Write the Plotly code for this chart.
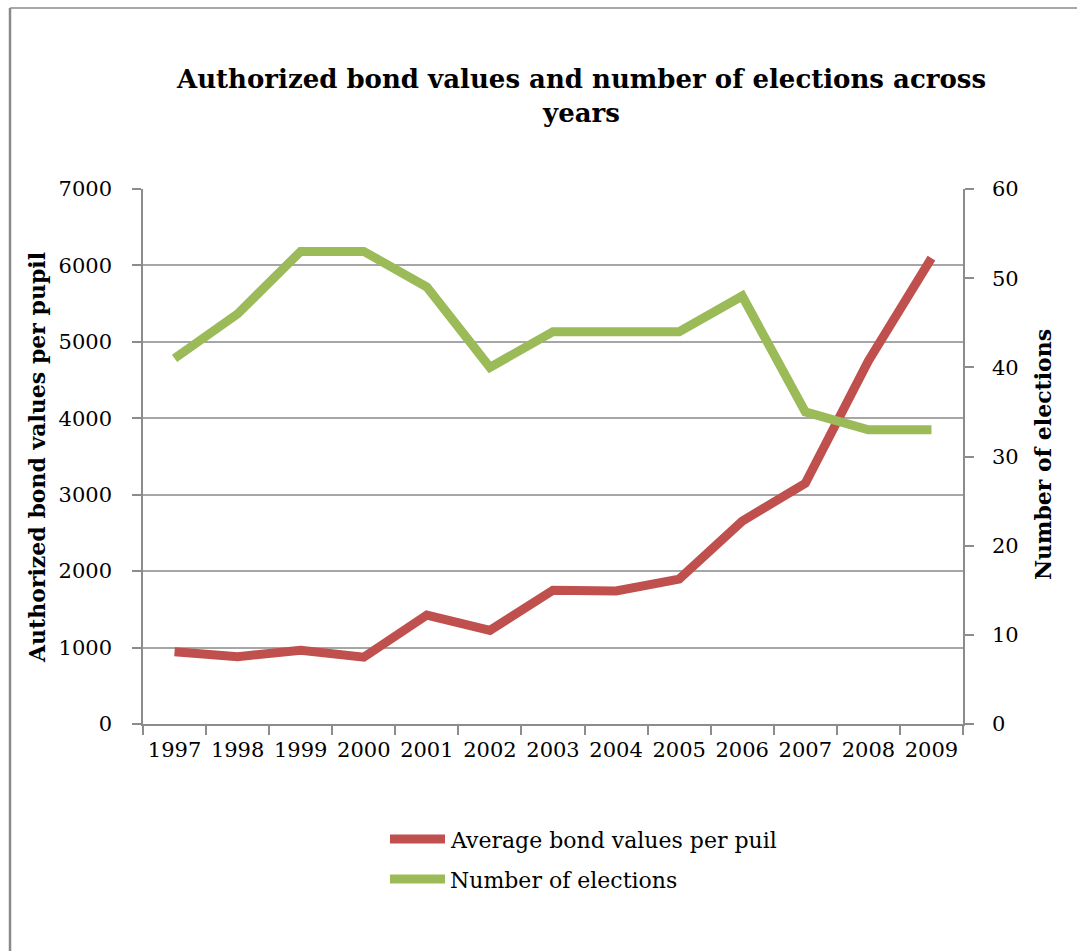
import plotly.graph_objects as go

years = ["1997", "1998", "1999", "2000", "2001", "2002", "2003", "2004", "2005", "2006", "2007", "2008", "2009"]
bond_values = [945, 880, 965, 875, 1425, 1225, 1750, 1740, 1895, 2655, 3150, 4750, 6095]
elections = [41, 46, 53, 53, 49, 40, 44, 44, 44, 48, 35, 33, 33]

RED = "#C0504D"
GREEN = "#9BBB59"
GRID = "#A6A6A6"
AXIS = "#8C8C8C"
FONT = "DejaVu Serif"

W, H = 1077, 951
L, R, T, B = 143, 963, 189, 724


def px(x):
    return (x - L) / (R - L)


def py(y):
    return (B - y) / (B - T)


fig = go.Figure()
fig.add_trace(go.Scatter(x=years, y=bond_values, mode="lines", name="Average bond values per puil",
                         line=dict(color=RED, width=9), yaxis="y"))
fig.add_trace(go.Scatter(x=years, y=elections, mode="lines", name="Number of elections",
                         line=dict(color=GREEN, width=9), yaxis="y2"))

fig.update_layout(
    width=W, height=H,
    margin=dict(l=L, r=W - R, t=T, b=H - B),
    paper_bgcolor="white", plot_bgcolor="white",
    showlegend=False,
    font=dict(family=FONT, size=21, color="black"),
    xaxis=dict(type="category", range=[-0.5, 12.5], tickson="boundaries", ticks="outside",
               ticklen=9, tickcolor=AXIS, tickwidth=1.5, showline=True, linecolor=AXIS, linewidth=1.5,
               showgrid=False, ticklabelstandoff=6, tickfont=dict(family=FONT, size=21)),
    yaxis=dict(range=[0, 7000], dtick=1000, ticks="outside", ticklen=9, tickcolor=AXIS, tickwidth=1.5,
               showline=True, linecolor=AXIS, linewidth=1.5, showgrid=True, gridcolor=GRID, gridwidth=1.5,
               zeroline=False, ticklabelstandoff=16, tickfont=dict(family=FONT, size=21)),
    yaxis2=dict(range=[0, 60], dtick=10, overlaying="y", side="right", ticks="outside", ticklen=9,
                tickcolor=AXIS, tickwidth=1.5, showline=True, linecolor=AXIS, linewidth=1.5,
                showgrid=False, zeroline=False, ticklabelstandoff=14, tickfont=dict(family=FONT, size=21)),
)

shapes = [
    # chart frame
    dict(type="line", xref="paper", yref="paper", x0=px(10), x1=px(10), y0=py(8), y1=py(970),
         line=dict(color="#8A8A8A", width=2.5)),
    dict(type="line", xref="paper", yref="paper", x0=px(10), x1=px(1100), y0=py(8), y1=py(8),
         line=dict(color="#8A8A8A", width=1.5)),
    # legend keys
    dict(type="line", xref="paper", yref="paper", x0=px(390), x1=px(445), y0=py(839), y1=py(839),
         line=dict(color=RED, width=9)),
    dict(type="line", xref="paper", yref="paper", x0=px(390), x1=px(445), y0=py(879), y1=py(879),
         line=dict(color=GREEN, width=9)),
]
fig.update_layout(shapes=shapes)

annotations = [
    dict(text="<b>Authorized bond values and number of elections across<br>years</b>",
         x=px(581), y=py(96), xref="paper", yref="paper", xanchor="center", yanchor="middle",
         showarrow=False, font=dict(family=FONT, size=26, color="black")),
    dict(text="<b>Authorized bond values per pupil</b>", textangle=-90,
         x=px(37), y=py(458), xref="paper", yref="paper", xanchor="center", yanchor="middle",
         showarrow=False, font=dict(family=FONT, size=22, color="black")),
    dict(text="<b>Number of elections</b>", textangle=-90,
         x=px(1043), y=py(455), xref="paper", yref="paper", xanchor="center", yanchor="middle",
         showarrow=False, font=dict(family=FONT, size=22, color="black")),
    dict(text="Average bond values per puil", x=px(448), y=py(840), xref="paper", yref="paper",
         xanchor="left", yanchor="middle", showarrow=False, font=dict(family=FONT, size=22, color="black")),
    dict(text="Number of elections", x=px(448), y=py(880), xref="paper", yref="paper",
         xanchor="left", yanchor="middle", showarrow=False, font=dict(family=FONT, size=22, color="black")),
]
fig.update_layout(annotations=annotations)

fig.write_html("out.html")
